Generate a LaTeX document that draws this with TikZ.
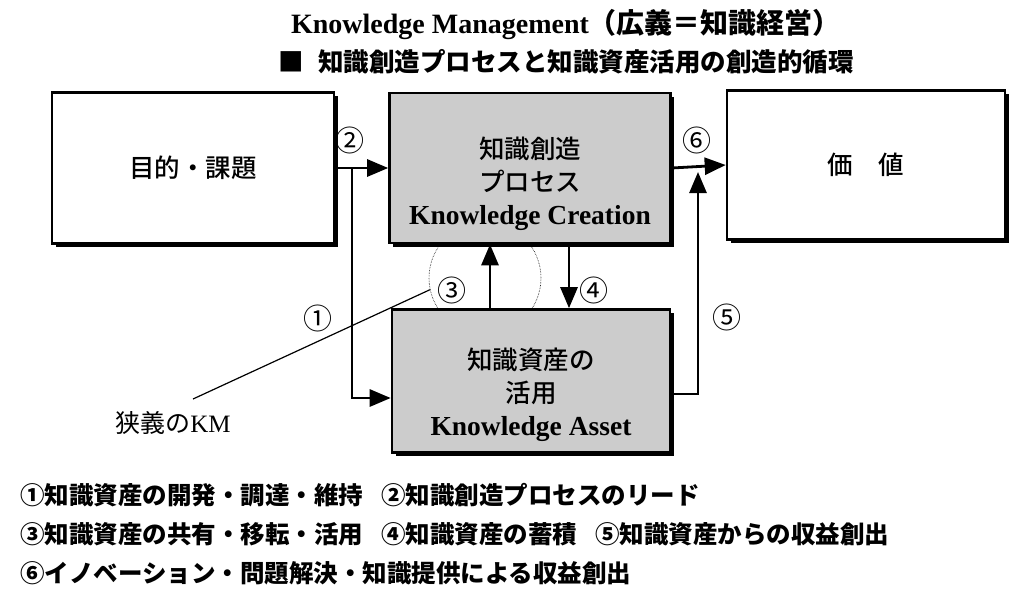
\documentclass[tikz,border=0pt]{standalone}
\usepackage{fontspec}
\setmainfont{Liberation Serif}
\newfontfamily\jp{Noto Sans CJK JP}
\newfontfamily\jpm{Noto Sans CJK JP Medium}
\usetikzlibrary{arrows.meta,shadows}

\begin{document}
\begin{tikzpicture}[x=1pt,y=-1pt,
	every node/.style={inner sep=0pt},
	box/.style={draw, line width=2.6pt, fill=white, drop shadow={shadow xshift=3.5pt, shadow yshift=-3.5pt, fill=black, opacity=1}},
	kbox/.style={box, fill=black!20},
	arr/.style={line width=2.8pt, -{Triangle[length=21pt,width=17pt]}},
	num/.style={font=\jp\fontsize{29}{29}\selectfont},
	boxtxt/.style={align=center, font=\jpm\fontsize{25.5}{33}\selectfont},
	legend/.style={anchor=west, font=\jp\bfseries\fontsize{24.5}{24.5}\selectfont}]
	\useasboundingbox (0,0) rectangle (1024,595);
	% titles
	\node (title) at (566,25) {\fontsize{28}{28}\selectfont\bfseries Knowledge Management{\jp （広義＝知識経営）}};
	\node (sub) at (566,62) {\jp\bfseries\fontsize{25.5}{25.5}\selectfont ■\hspace{14pt}知識創造プロセスと知識資産活用の創造的循環};
	% boxes
	\node[box, minimum width=282pt, minimum height=151pt] (goal) at (193,168) {};
	\node[kbox, minimum width=281pt, minimum height=150pt] (creation) at (530,168) {};
	\node[box, minimum width=278pt, minimum height=149pt] (value) at (866,165) {};
	\node[kbox, minimum width=278pt, minimum height=143pt] (asset) at (531,381) {};
	\node[boxtxt] (goal txt) at (goal) {目的・課題};
	\node[boxtxt] (value txt) at (value) {価　値};
	\node[boxtxt] (creation txt) at ([yshift=-16pt]creation.center) {知識創造\\プロセス\\{\rmfamily\bfseries\fontsize{27.5}{27.5}\selectfont Knowledge Creation}};
	\node[boxtxt] (asset txt) at ([yshift=-14pt]asset.center) {知識資産の\\活用\\{\rmfamily\bfseries\fontsize{27.5}{27.5}\selectfont Knowledge Asset}};
	% dotted ring between the two grey boxes
	\begin{scope}
		\clip (creation.south west) rectangle (asset.north east);
		\node[draw, circle, densely dotted, line width=0.6pt, minimum size=112pt] (ring) at (485,278) {};
	\end{scope}
	% connectors
	\coordinate (split) at (352,168);
	\coordinate (join) at (698,168);
	\draw[arr] (goal.east) -- (creation.west);
	\draw[arr] (split) |- ([yshift=-17pt]asset.west);
	\draw[arr] (creation.east) -- (value.west);
	\draw[arr] ([yshift=-13pt]asset.east) -| ([yshift=-4pt]join);
	\draw[arr] (asset.north -| 490,0) -- (creation.south -| 490,0);
	\draw[arr] (creation.south -| 569,0) -- (asset.north -| 569,0);
	% narrow KM
	\node (km) at (173,423) {\fontsize{25}{25}\selectfont{\jp 狭義の}KM};
	\coordinate (km tip) at (193,399);
	\draw[line width=1.2pt] (km tip) -- (ring.192);
	% numbers
	\node[num] (n1) at (318,318) {①};
	\node[num] (n2) at (350,140) {②};
	\node[num] (n3) at (452,290) {③};
	\node[num] (n4) at (594,290) {④};
	\node[num] (n5) at (727,317) {⑤};
	\node[num] (n6) at (697,140) {⑥};
	% legend
	\node[legend] (leg1) at (20,495) {①知識資産の開発・調達・維持\hspace{18pt}②知識創造プロセスのリード};
	\node[legend] (leg2) at (20,534) {③知識資産の共有・移転・活用\hspace{18pt}④知識資産の蓄積\hspace{18pt}⑤知識資産からの収益創出};
	\node[legend] (leg3) at (20,573) {⑥イノベーション・問題解決・知識提供による収益創出};
\end{tikzpicture}
\end{document}
